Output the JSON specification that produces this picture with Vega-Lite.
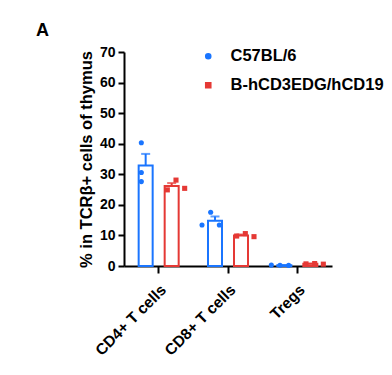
{
  "$schema": "https://vega.github.io/schema/vega-lite/v6.json",
  "autosize": "none",
  "padding": {"left": 124, "top": 52, "right": 60, "bottom": 109},
  "width": 208,
  "height": 214,
  "title": {"text": "A", "anchor": "start", "frame": "group", "dx": -88, "dy": 7, "offset": 12, "fontSize": 18, "font": "Liberation Sans", "fontWeight": "bold", "color": "black"},
  "config": {
    "view": {"stroke": null},
    "font": "Liberation Sans",
    "legend": {"labelFontSize": 16.5, "labelFont": "Liberation Sans", "labelFontWeight": "bold", "labelColor": "black", "labelOffset": 14, "rowPadding": 12, "symbolSize": 26}
  },
  "data": {"values": [
    {"cat": "CD4+ T cells", "group": "C57BL/6", "slot": "b-M", "value": 40.3},
    {"cat": "CD4+ T cells", "group": "C57BL/6", "slot": "b-M", "value": 30.6},
    {"cat": "CD4+ T cells", "group": "C57BL/6", "slot": "b-M", "value": 27.6},
    {"cat": "CD4+ T cells", "group": "B-hCD3EDG/hCD19", "slot": "r-M", "value": 28.1},
    {"cat": "CD4+ T cells", "group": "B-hCD3EDG/hCD19", "slot": "r-L", "value": 24.9},
    {"cat": "CD4+ T cells", "group": "B-hCD3EDG/hCD19", "slot": "r-R", "value": 25.4},
    {"cat": "CD8+ T cells", "group": "C57BL/6", "slot": "b-M", "value": 17.6},
    {"cat": "CD8+ T cells", "group": "C57BL/6", "slot": "b-L", "value": 13.4},
    {"cat": "CD8+ T cells", "group": "C57BL/6", "slot": "b-R", "value": 13.4},
    {"cat": "CD8+ T cells", "group": "B-hCD3EDG/hCD19", "slot": "r-M", "value": 10.6},
    {"cat": "CD8+ T cells", "group": "B-hCD3EDG/hCD19", "slot": "r-L", "value": 9.8},
    {"cat": "CD8+ T cells", "group": "B-hCD3EDG/hCD19", "slot": "r-R", "value": 9.6},
    {"cat": "Tregs", "group": "C57BL/6", "slot": "b-L", "value": 0.3},
    {"cat": "Tregs", "group": "C57BL/6", "slot": "b-M", "value": 0.25},
    {"cat": "Tregs", "group": "C57BL/6", "slot": "b-R", "value": 0.2},
    {"cat": "Tregs", "group": "B-hCD3EDG/hCD19", "slot": "r-L", "value": 0.7},
    {"cat": "Tregs", "group": "B-hCD3EDG/hCD19", "slot": "r-M", "value": 0.8},
    {"cat": "Tregs", "group": "B-hCD3EDG/hCD19", "slot": "r-R", "value": 0.6}
  ]},
  "encoding": {
    "x": {"field": "cat", "type": "nominal", "sort": ["CD4+ T cells", "CD8+ T cells", "Tregs"],
      "scale": {"paddingInner": 0, "paddingOuter": 0},
      "axis": {"title": null, "labelAngle": -45, "labelFontSize": 15.5, "labelFont": "Liberation Sans", "labelFontWeight": "bold", "labelColor": "black", "labelPadding": 9, "labelOverlap": false,
        "domainColor": "black", "domainWidth": 2, "tickColor": "black", "tickWidth": 2, "tickSize": 7}},
    "y": {"field": "value", "type": "quantitative", "scale": {"domain": [0, 70]},
      "axis": {"values": [0, 10, 20, 30, 40, 50, 60, 70], "labelOverlap": false, "title": "% in TCRβ+ cells of thymus",
        "labelFontSize": 14, "labelFont": "Liberation Sans", "labelFontWeight": "bold", "labelColor": "black", "labelPadding": 3,
        "titleFontSize": 16.5, "titleFont": "Liberation Sans", "titleFontWeight": "bold", "titleColor": "black", "titlePadding": 5,
        "domainColor": "black", "domainWidth": 2, "tickColor": "black", "tickWidth": 2, "tickSize": 6, "grid": false}}
  },
  "layer": [
    {
      "transform": [
        {"aggregate": [{"op": "mean", "field": "value", "as": "mean"}, {"op": "stderr", "field": "value", "as": "se"}], "groupby": ["cat", "group"]},
        {"calculate": "datum.mean + datum.se", "as": "hi"}
      ],
      "encoding": {
        "xOffset": {"field": "group", "type": "nominal", "sort": ["C57BL/6", "B-hCD3EDG/hCD19"], "scale": {"paddingInner": 0, "paddingOuter": 0.333}}
      },
      "layer": [
        {
          "mark": {"type": "bar", "width": 14, "fill": "white", "strokeWidth": 2},
          "encoding": {
            "y": {"field": "mean", "type": "quantitative"},
            "stroke": {"field": "group", "type": "nominal", "scale": {"domain": ["C57BL/6", "B-hCD3EDG/hCD19"], "range": ["#1A75FF", "#E53935"]},
              "legend": {"title": null, "orient": "none", "legendX": 76, "legendY": -4}}
          }
        },
        {
          "mark": {"type": "rule", "strokeWidth": 2},
          "encoding": {
            "y": {"field": "mean", "type": "quantitative"},
            "y2": {"field": "hi"},
            "stroke": {"field": "group", "type": "nominal",
              "legend": {"title": null, "orient": "none", "legendX": 76, "legendY": -4}}
          }
        },
        {
          "mark": {"type": "tick", "size": 9, "thickness": 2},
          "encoding": {
            "y": {"field": "hi", "type": "quantitative"},
            "color": {"field": "group", "type": "nominal", "scale": {"domain": ["C57BL/6", "B-hCD3EDG/hCD19"], "range": ["#1A75FF", "#E53935"]},
              "legend": {"title": null, "orient": "none", "legendX": 76, "legendY": -4}}
          }
        }
      ]
    },
    {
      "mark": {"type": "point", "filled": true, "opacity": 1},
      "encoding": {
        "xOffset": {"field": "slot", "type": "nominal", "scale": {"domain": ["b-L", "b-M", "b-R", "gap", "r-L", "r-M", "r-R"], "paddingInner": 0, "paddingOuter": 1.75}},
        "color": {"field": "group", "type": "nominal",
          "legend": {"title": null, "orient": "none", "legendX": 76, "legendY": -4}},
        "shape": {"field": "group", "type": "nominal", "scale": {"domain": ["C57BL/6", "B-hCD3EDG/hCD19"], "range": ["circle", "square"]},
          "legend": {"title": null, "orient": "none", "legendX": 76, "legendY": -4}},
        "size": {"value": 26}
      }
    }
  ],
  "resolve": {"scale": {"xOffset": "independent"}}
}
